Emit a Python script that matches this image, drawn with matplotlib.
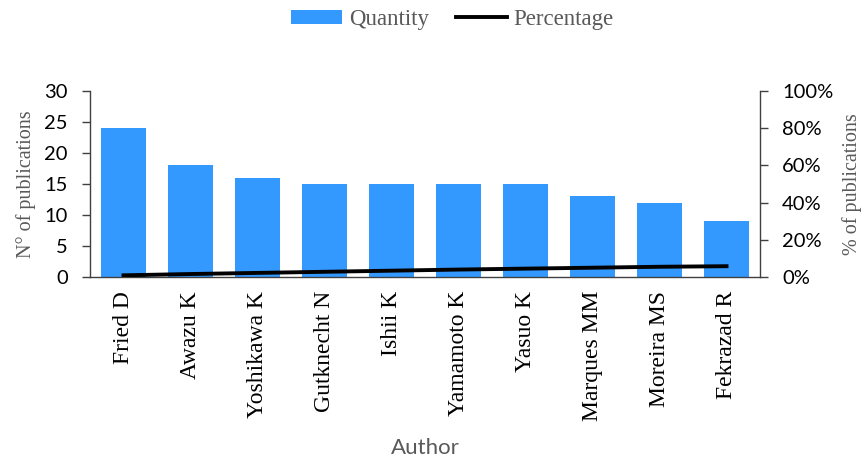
import matplotlib
matplotlib.use("Agg")
import matplotlib.pyplot as plt
from matplotlib.ticker import FuncFormatter

authors = ["Fried D", "Awazu K", "Yoshikawa K", "Gutknecht N", "Ishii K",
           "Yamamoto K", "Yasuo K", "Marques MM", "Moreira MS", "Fekrazad R"]
quantity = [24, 18, 16, 15, 15, 15, 15, 13, 12, 9]
percentage = [0.9, 1.6, 2.2, 2.8, 3.4, 4.0, 4.5, 5.0, 5.5, 5.8]

bar_color = "#3399FF"
gray = "#595959"
serif = ["Liberation Serif", "DejaVu Serif"]
sans = ["Lato", "DejaVu Sans"]

fig = plt.figure(figsize=(8.67, 4.65), dpi=100)
ax = fig.add_axes([0.1038, 0.4043, 0.7728, 0.4000])
ax2 = ax.twinx()

x = list(range(len(authors)))
ax.bar(x, quantity, width=0.66, color=bar_color, label="Quantity", zorder=2)
ax2.plot(x, percentage, color="black", lw=2.8, label="Percentage", zorder=3)

ax.set_xlim(-0.5, len(authors) - 0.5)
ax.set_ylim(0, 30)
ax.set_yticks([0, 5, 10, 15, 20, 25, 30])
ax2.set_ylim(0, 100)
ax2.set_yticks([0, 20, 40, 60, 80, 100])
ax2.yaxis.set_major_formatter(FuncFormatter(lambda v, p: f"{int(v)}%"))

ax.set_xticks(x)
ax.set_xticklabels(authors, rotation=90, family=serif, fontsize=17, color="black")
ax.tick_params(axis="x", length=0, pad=10)
for a in (ax, ax2):
    a.tick_params(axis="y", direction="out", length=6, width=1, color="#404040",
                  labelsize=14.5, pad=10)
    for lab in a.get_yticklabels():
        lab.set_family(sans)
        lab.set_color("black")
    a.spines["top"].set_visible(False)
    for s in ("left", "right", "bottom"):
        a.spines[s].set_color("#404040")
        a.spines[s].set_linewidth(1)
ax.spines["right"].set_visible(False)
ax2.spines["left"].set_visible(False)
ax2.spines["bottom"].set_visible(False)

ax.set_ylabel("N° of publications", family=serif, fontsize=14.5, color=gray, labelpad=6)
ax2.set_ylabel("% of publications", family=serif, fontsize=14.5, color=gray, labelpad=6)
ax.set_xlabel("Author", family=sans, fontsize=16, color=gray, labelpad=12)

h1, l1 = ax.get_legend_handles_labels()
h2, l2 = ax2.get_legend_handles_labels()
leg = fig.legend(h1 + h2, l1 + l2, loc="upper center", bbox_to_anchor=(0.522, 1.025),
                 ncol=2, frameon=False, prop={"family": serif, "size": 16.5},
                 handlelength=2.2, handleheight=0.6, columnspacing=1.2, handletextpad=0.3)
for t in leg.get_texts():
    t.set_color(gray)

fig.savefig("out.png", dpi=100)
